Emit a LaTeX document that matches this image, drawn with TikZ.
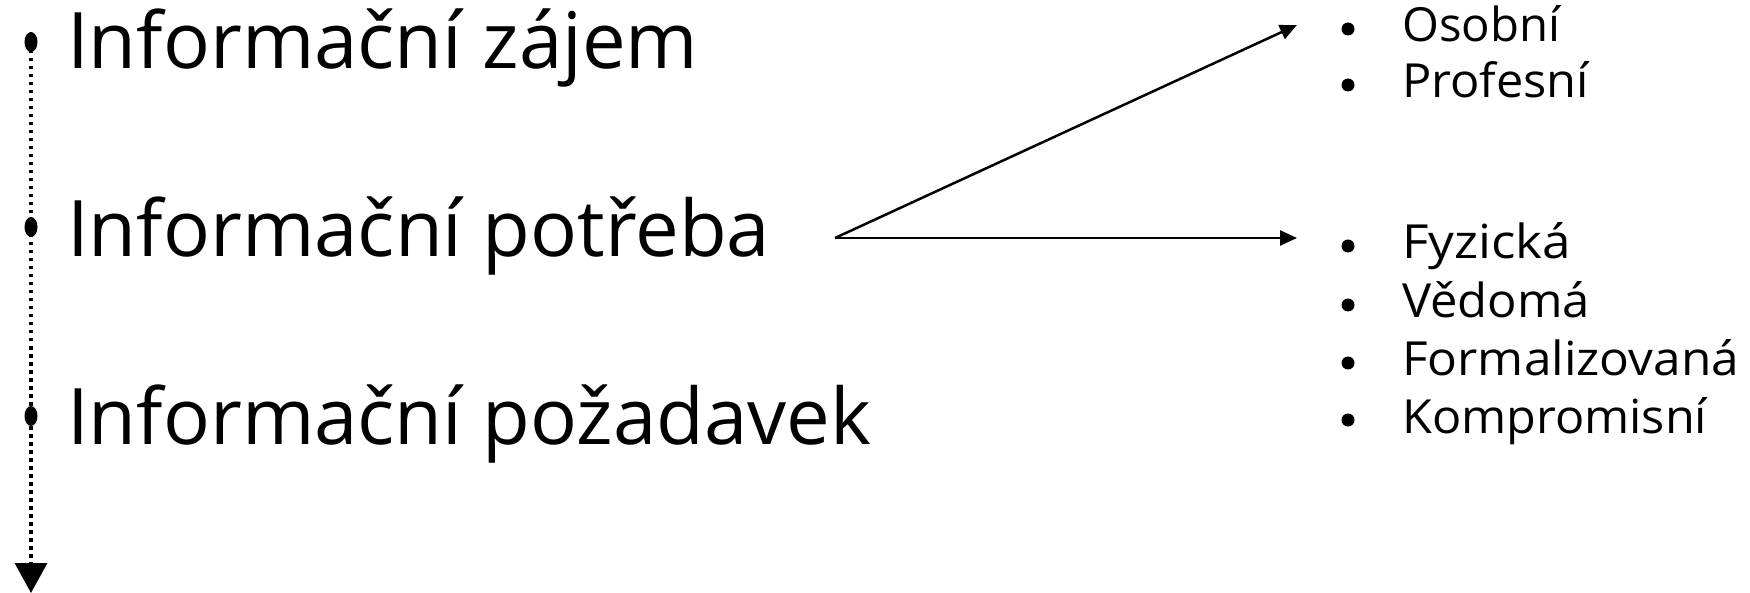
\documentclass[tikz,border=0pt]{standalone}
\usepackage{fontspec}
\setmainfont{Open Sans}
\usetikzlibrary{arrows.meta,shapes.geometric}
\begin{document}
\begin{tikzpicture}[x=1pt,y=-1pt,
  mainlbl/.style={anchor=base west, inner sep=0pt, font=\fontsize{78}{80}\selectfont},
  itemlbl/.style={anchor=base west, inner sep=0pt, font=\fontsize{47}{48}\selectfont},
  bul/.style={circle, fill=black, inner sep=0pt, minimum size=13pt},
  linedot/.style={ellipse, fill=black, inner sep=0pt, minimum width=13pt, minimum height=20pt},
  conn/.style={line width=2.5pt, -{Triangle[length=17pt,width=15pt]}},
  timeline/.style={line width=3.5pt, dash pattern=on 3.5pt off 4.5pt, -{Triangle[length=30pt,width=32pt]}}
]
\useasboundingbox (0,0) rectangle (1750,593);
% timeline
\coordinate (top) at (31,42);
\coordinate (bottom) at (31,593);
\draw[timeline] (top) -- (bottom);
\node[linedot] (d1) at (31,42) {};
\node[linedot] (d2) at (31,227) {};
\node[linedot] (d3) at (31,416) {};
% main labels
\node[mainlbl] (l1) at (67,69) {\resizebox{631pt}{\height}{Informační zájem}};
\node[mainlbl] (l2) at (67,257) {\resizebox{703pt}{\height}{Informační potřeba}};
\node[mainlbl] (l3) at (67,444) {\resizebox{804pt}{\height}{Informační požadavek}};
% arrows
\coordinate (src) at (835,238);
\coordinate (t1) at (1297,25);
\coordinate (t2) at (1297,238);
\draw[conn] (src) -- (t1);
\draw[conn] (src) -- (t2);
% list 1
\node[bul] (b1) at (1348,29) {};
\node[itemlbl] (i1) at (1402,42) {\resizebox{158pt}{\height}{Osobní}};
\node[bul] (b2) at (1348,85) {};
\node[itemlbl] (i2) at (1402,98) {\resizebox{187pt}{\height}{Profesní}};
% list 2
\node[bul] (b3) at (1348,246) {};
\node[itemlbl] (i3) at (1402,259) {\resizebox{169pt}{\height}{Fyzická}};
\node[bul] (b4) at (1348,305) {};
\node[itemlbl] (i4) at (1402,318) {\resizebox{188pt}{\height}{Vědomá}};
\node[bul] (b5) at (1348,363) {};
\node[itemlbl] (i5) at (1402,376) {\resizebox{337pt}{\height}{Formalizovaná}};
\node[bul] (b6) at (1348,420) {};
\node[itemlbl] (i6) at (1402,433) {\resizebox{305pt}{\height}{Kompromisní}};
\end{tikzpicture}
\end{document}
